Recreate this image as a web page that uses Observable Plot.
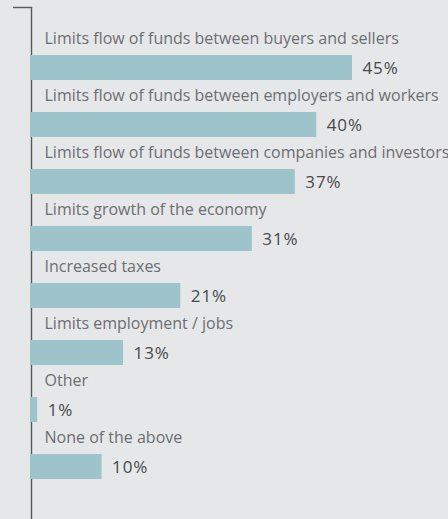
<!DOCTYPE html>
<html>
<head>
<meta charset="utf-8">
<script src="https://cdn.jsdelivr.net/npm/d3@7"></script>
<script src="https://cdn.jsdelivr.net/npm/@observablehq/plot@0.6"></script>
<style>
  html, body { margin: 0; padding: 0; background: #e6e7e9; }
  #chart svg { display: block; }
</style>
</head>
<body>
<div id="chart"></div>
<script>
const categories = [
  "Limits flow of funds between buyers and sellers",
  "Limits flow of funds between employers and workers",
  "Limits flow of funds between companies and investors",
  "Limits growth of the economy",
  "Increased taxes",
  "Limits employment / jobs",
  "Other",
  "None of the above"
];
const values = [45, 40, 37, 31, 21, 13, 1, 10];
const valueLabels = ["45%", "40%", "37%", "31%", "21%", "13%", "1%", "10%"];

const data = categories.map((c, i) => ({category: c, value: values[i], label: valueLabels[i]}));

const chart = Plot.plot({
  width: 448,
  height: 519,
  marginTop: 7,
  marginBottom: 0,
  marginLeft: 30,
  marginRight: 96,
  style: {background: "#e6e7e9", fontFamily: "'Open Sans', sans-serif"},
  x: {domain: [0, 45], axis: null},
  y: {domain: categories, axis: null, insetTop: 7, paddingInner: 0.569, paddingOuter: 0.638},
  marks: [
    Plot.ruleX([0], {stroke: "#58595b", strokeWidth: 1.4, dx: 1}),
    Plot.barX(data, {x: "value", y: "category", fill: "#9cc4ca"}),
    Plot.text(data, {
      x: 0, y: "category", text: "category",
      textAnchor: "start", lineAnchor: "bottom", dx: 14, dy: -24.5,
      fill: "#6d6e72", fontSize: 16
    }),
    Plot.text(data, {
      x: "value", y: "category", text: "label",
      textAnchor: "start", lineAnchor: "middle", dx: 10, dy: 0.5,
      fill: "#48494b", fontSize: 17, fontWeight: 500
    })
  ]
});

chart.querySelectorAll("g[aria-label='text']").forEach((g, i) => {
  if (i === 1) g.setAttribute("letter-spacing", "0.9");
});

const x0 = chart.scale("x").apply(0);
d3.select(chart).append("line")
  .attr("x1", x0 - 17).attr("x2", x0 + 2.2)
  .attr("y1", 7.5).attr("y2", 7.5)
  .attr("stroke", "#58595b").attr("stroke-width", 1.4);

document.getElementById("chart").appendChild(chart);
</script>
</body>
</html>
